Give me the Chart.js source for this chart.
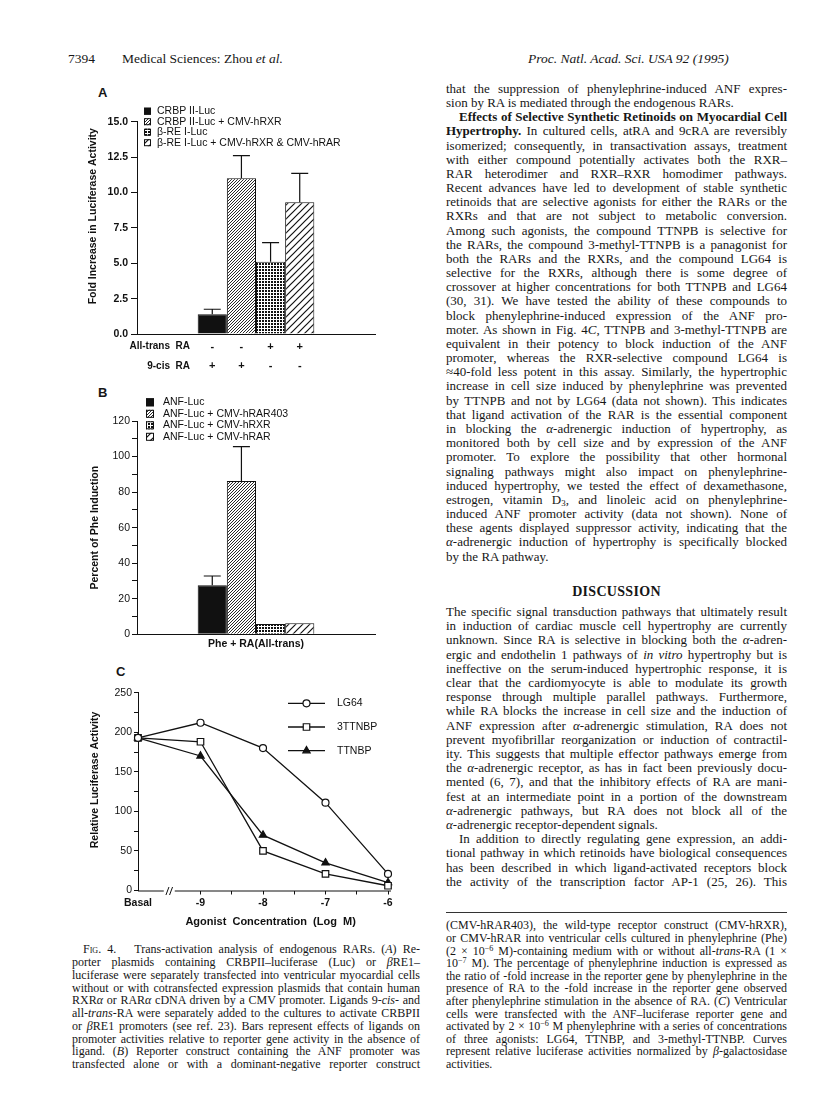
<!DOCTYPE html>
<html lang="en">
<head>
<meta charset="UTF-8">
<title>Fig. 4 – Trans-activation analysis of endogenous RARs</title>
<script src="https://cdn.jsdelivr.net/npm/chart.js"></script>
<style>
  html, body { margin: 0; padding: 0; background: #fff; }
  #page { position: relative; width: 816px; height: 1114px; overflow: hidden;
          font-family: "Liberation Serif", "Times New Roman", serif; color: #161616; }
  .ln { position: absolute; text-align: justify; white-space: normal; }
  .hd { position: absolute; font-size: 13.5px; line-height: 16px; white-space: nowrap; }
  .panel { position: absolute; font: bold 13px "Liberation Sans", Arial, sans-serif; }
  canvas { position: absolute; }
  sub, sup { font-size: 0.68em; line-height: 0; }
  sup { vertical-align: 0.45em; }
  sub { vertical-align: -0.25em; }
  .sc { font-variant: small-caps; }
</style>
</head>
<body>
<div id="page">
  <div class="hd" style="left:68px;top:51px">7394</div>
  <div class="hd" style="left:122px;top:51px">Medical Sciences: Zhou <i>et al.</i></div>
  <div class="hd" style="left:528px;top:51px"><i>Proc. Natl. Acad. Sci. USA 92 (1995)</i></div>

  <div class="panel" style="left:98px;top:85px">A</div>
  <div class="panel" style="left:98px;top:385px">B</div>
  <div class="panel" style="left:116px;top:664px">C</div>

  <canvas id="chartA" width="360" height="300" style="left:40px;top:80px"></canvas>
  <canvas id="chartB" width="360" height="270" style="left:40px;top:390px"></canvas>
  <canvas id="chartC" width="360" height="280" style="left:40px;top:660px"></canvas>

  <div class="hd" style="left:446px;width:341px;top:584px;text-align:center;font-weight:bold;font-size:14px;letter-spacing:0.3px">DISCUSSION</div>
  <div style="position:absolute;left:446px;top:912px;width:341px;height:1px;background:#333"></div>
</div>

<script>
// ---------- panel A: luciferase fold increase ----------
const seriesA = ['CRBP II-Luc', 'CRBP II-Luc + CMV-hRXR', 'β-RE I-Luc', 'β-RE I-Luc + CMV-hRXR & CMV-hRAR'];
const valuesA = [1.4, 11.0, 5.1, 9.3];
const errorsA = [0.35, 1.6, 1.35, 2.05];
const allTransA = ['-', '-', '+', '+'];
const nineCisA = ['+', '+', '-', '-'];
const ticksA = [0, 2.5, 5, 7.5, 10, 12.5, 15];

// ---------- panel B: percent of Phe induction ----------
const seriesB = ['ANF-Luc', 'ANF-Luc + CMV-hRAR403', 'ANF-Luc + CMV-hRXR', 'ANF-Luc + CMV-hRAR'];
const valuesB = [27.6, 86.3, 5.8, 6.2];
const errorsB = [5.2, 19.3, 0, 0];
const categoryB = ['Phe + RA(All-trans)'];
const ticksB = [0, 10, 20, 30, 40, 50, 60, 70, 80, 90, 100, 110, 120];

// ---------- panel C: dose response ----------
const concLog = [-10, -9, -8, -7, -6];          // -10 stands for the basal point
const concLabels = ['Basal', '-9', '-8', '-7', '-6'];
const concMinor = [-8.5, -7.5, -6.5];
const lg64 = [193, 212, 180, 111, 21];
const ttnbp3 = [193, 188, 50, 21, 6];
const ttnbp = [193, 170, 70, 35, 10];
const ticksC = [0, 25, 50, 75, 100, 125, 150, 175, 200, 225, 250];

const INK = '#111';
const SANS = '"Liberation Sans", Arial, sans-serif';
Chart.defaults.font.family = SANS;
Chart.defaults.color = INK;
Chart.defaults.animation = false;

// fill patterns like the printed figure
function pattern(size, draw) {
  const c = document.createElement('canvas');
  c.width = c.height = size;
  const g = c.getContext('2d');
  g.fillStyle = '#fff';
  g.fillRect(0, 0, size, size);
  g.fillStyle = INK;
  g.strokeStyle = INK;
  draw(g, size);
  return g.createPattern(c, 'repeat');
}
function diagonal(g, s, w) {
  g.lineWidth = w;
  g.beginPath();
  g.moveTo(0, s); g.lineTo(s, 0);
  g.moveTo(-1, 1); g.lineTo(1, -1);
  g.moveTo(s - 1, s + 1); g.lineTo(s + 1, s - 1);
  g.stroke();
}
const fills = [
  INK,
  pattern(3, (g, s) => diagonal(g, s, 0.9)),
  pattern(3, (g) => g.fillRect(0, 0, 2, 2)),
  pattern(7, (g, s) => diagonal(g, s, 1.2))
];

function barSets(labels, values, errors) {
  return labels.map((label, i) => ({
    label,
    data: [values[i]],
    err: errors[i],
    backgroundColor: fills[i],
    borderColor: INK,
    borderWidth: 1,
    categoryPercentage: 0.49,
    barPercentage: 1
  }));
}

// ---------- small plugins ----------
const errorBars = {
  id: 'errorBars',
  afterDatasetsDraw(chart, args, opts) {
    const { ctx } = chart;
    const ys = chart.scales.y;
    ctx.save();
    ctx.strokeStyle = INK;
    ctx.lineWidth = 1.2;
    chart.data.datasets.forEach((ds, i) => {
      if (!ds.err) return;
      const bar = chart.getDatasetMeta(i).data[0];
      const top = ys.getPixelForValue(ds.data[0] + ds.err);
      ctx.beginPath();
      ctx.moveTo(bar.x, bar.y);
      ctx.lineTo(bar.x, top);
      ctx.moveTo(bar.x - opts.cap / 2, top);
      ctx.lineTo(bar.x + opts.cap / 2, top);
      ctx.stroke();
    });
    ctx.restore();
  }
};

const signRows = {
  id: 'signRows',
  afterDraw(chart, args, opts) {
    if (!opts.rows) return;
    const { ctx, chartArea } = chart;
    ctx.save();
    ctx.fillStyle = INK;
    ctx.textBaseline = 'middle';
    opts.rows.forEach(row => {
      const y = chartArea.bottom + row.dy;
      ctx.font = opts.labelFont;
      ctx.textAlign = 'right';
      ctx.fillText(row.label, chartArea.left + opts.labelRight, y);
      ctx.font = opts.signFont;
      ctx.textAlign = 'center';
      row.signs.forEach((s, i) => ctx.fillText(s, chart.getDatasetMeta(i).data[0].x, y));
    });
    ctx.restore();
  }
};

const keyLegend = {
  id: 'keyLegend',
  afterDraw(chart, args, opts) {
    const { ctx } = chart;
    ctx.save();
    ctx.font = opts.font;
    ctx.textBaseline = 'middle';
    ctx.textAlign = 'left';
    chart.data.datasets.forEach((ds, i) => {
      const y = opts.y + i * opts.rowH;
      if (opts.kind === 'box') {
        const s = opts.box;
        ctx.fillStyle = ds.backgroundColor;
        ctx.fillRect(opts.x, y - s / 2, s, s);
        ctx.strokeStyle = INK;
        ctx.lineWidth = 1;
        ctx.strokeRect(opts.x + 0.5, y - s / 2 + 0.5, s - 1, s - 1);
      } else {
        ctx.strokeStyle = INK;
        ctx.lineWidth = ds.borderWidth;
        ctx.beginPath();
        ctx.moveTo(opts.x, y);
        ctx.lineTo(opts.x + opts.lineLen, y);
        ctx.stroke();
        ctx.fillStyle = ds.pointBackgroundColor;
        ctx.strokeStyle = ds.pointBorderColor;
        ctx.lineWidth = ds.pointBorderWidth;
        Chart.helpers.drawPoint(ctx, {
          pointStyle: ds.pointStyle, radius: ds.pointRadius,
          borderWidth: ds.pointBorderWidth, rotation: 0
        }, opts.x + opts.lineLen / 2, y);
      }
      ctx.fillStyle = INK;
      ctx.fillText(ds.label, opts.textX, y);
    });
    ctx.restore();
  }
};

// x axis of panel C is broken between basal and 10^-9
const axisBreak = {
  id: 'axisBreak',
  afterDraw(chart, args, opts) {
    const { ctx, chartArea } = chart;
    const xs = chart.scales.x;
    const y = chartArea.bottom + 0.5;
    const bx = xs.getPixelForValue(opts.at);
    ctx.save();
    ctx.strokeStyle = INK;
    ctx.lineWidth = 1;
    ctx.beginPath();
    ctx.moveTo(chartArea.left, y);
    ctx.lineTo(bx - opts.gap, y);
    ctx.moveTo(bx + opts.gap, y);
    ctx.lineTo(chartArea.right + 3, y);
    [-1.8, 1.8].forEach(d => {
      ctx.moveTo(bx + d - 1.5, y + 4);
      ctx.lineTo(bx + d + 1.5, y - 4);
    });
    ctx.stroke();
    ctx.restore();
  }
};

const setTicks = (list) => (scale) => { scale.ticks = list.map(v => ({ value: v })); };

// ---------- chart A ----------
new Chart(document.getElementById('chartA'), {
  type: 'bar',
  data: { labels: [''], datasets: barSets(seriesA, valuesA, errorsA) },
  plugins: [errorBars, signRows, keyLegend],
  options: {
    responsive: false,
    layout: { padding: { left: 0, top: 41.7, right: 25, bottom: 46 } },
    plugins: {
      legend: { display: false },
      tooltip: { enabled: false },
      errorBars: { cap: 17 },
      keyLegend: { kind: 'box', x: 104, box: 7, textX: 117, y: 31.2, rowH: 10.5, font: '10.5px ' + SANS },
      signRows: {
        labelRight: 53,
        labelFont: 'bold 10px ' + SANS,
        signFont: 'bold 11px ' + SANS,
        rows: [
          { label: 'All-trans  RA', signs: allTransA, dy: 12.7 },
          { label: '9-cis  RA', signs: nineCisA, dy: 32 }
        ]
      }
    },
    scales: {
      x: {
        grid: { display: false },
        ticks: { display: false },
        border: { color: INK, width: 1 },
        afterFit: (s) => { s.height = 0; }
      },
      y: {
        min: 0, max: 15,
        afterBuildTicks: setTicks(ticksA),
        ticks: { callback: (v) => v.toFixed(1), font: { size: 10.5, weight: 'bold' }, padding: 3, color: INK },
        grid: { drawOnChartArea: false, tickLength: 6, tickColor: INK },
        border: { color: INK, width: 1 },
        // leading spaces nudge the centred title upward, as printed
        title: { display: true, text: '        Fold Increase in Luciferase Activity', font: { size: 10.5, weight: 'bold' }, padding: { top: 46.7, bottom: 0 }, color: INK },
        afterFit: (s) => { s.width = 97; }
      }
    }
  }
});

// ---------- chart B ----------
new Chart(document.getElementById('chartB'), {
  type: 'bar',
  data: { labels: categoryB, datasets: barSets(seriesB, valuesB, errorsB) },
  plugins: [errorBars, keyLegend],
  options: {
    responsive: false,
    layout: { padding: { left: 0, top: 31, right: 25, bottom: 1.7 } },
    plugins: {
      legend: { display: false },
      tooltip: { enabled: false },
      errorBars: { cap: 17 },
      keyLegend: { kind: 'box', x: 106, box: 8, textX: 123, y: 12.3, rowH: 11.5, font: '10.5px ' + SANS }
    },
    scales: {
      x: {
        grid: { display: false, drawTicks: false, tickLength: 0 },
        ticks: { font: { size: 10.5, weight: 'bold' }, padding: 3.7, color: INK },
        border: { color: INK, width: 1 },
        afterFit: (s) => { s.height = 24; }
      },
      y: {
        min: 0, max: 120,
        afterBuildTicks: setTicks(ticksB),
        ticks: { callback: (v) => (v % 20 === 0 ? String(v) : ''), font: { size: 10.5 }, padding: 2, color: INK },
        grid: { drawOnChartArea: false, tickLength: 5, tickColor: INK },
        border: { color: INK, width: 1 },
        title: { display: true, text: 'Percent of Phe Induction', font: { size: 10.5, weight: 'bold' }, padding: { top: 48.7, bottom: 0 }, color: INK },
        afterFit: (s) => { s.width = 97; }
      }
    }
  }
});

// ---------- chart C ----------
function curve(label, values, style, radius, bg) {
  return {
    label,
    data: concLog.map((x, i) => ({ x, y: values[i] })),
    borderColor: INK,
    borderWidth: 1.3,
    pointStyle: style,
    pointRadius: radius,
    pointBackgroundColor: bg,
    pointBorderColor: INK,
    pointBorderWidth: 1.2,
    tension: 0,
    fill: false,
    clip: false
  };
}

new Chart(document.getElementById('chartC'), {
  type: 'line',
  data: {
    datasets: [
      curve('LG64', lg64, 'circle', 3.5, '#fff'),
      curve('3TTNBP', ttnbp3, 'rect', 4.6, '#fff'),
      curve('TTNBP', ttnbp, 'triangle', 4.2, INK)
    ]
  },
  plugins: [keyLegend, axisBreak],
  options: {
    responsive: false,
    layout: { padding: { left: 0, top: 32.7, right: 12, bottom: 9.5 } },
    plugins: {
      legend: { display: false },
      tooltip: { enabled: false },
      keyLegend: { kind: 'line', x: 248, lineLen: 37, textX: 297, y: 43.3, rowH: 23.7, font: '10.5px ' + SANS },
      axisBreak: { at: -9.5, gap: 5.5 }
    },
    scales: {
      x: {
        type: 'linear', min: -10, max: -6,
        afterBuildTicks: setTicks([...concLog, ...concMinor].sort((a, b) => a - b)),
        ticks: {
          autoSkip: false, maxRotation: 0, padding: 2.5, color: INK,
          font: { size: 10.5, weight: 'bold' },
          callback: (v) => { const i = concLog.indexOf(v); return i >= 0 ? concLabels[i] : ''; }
        },
        grid: {
          drawOnChartArea: false, tickLength: 4,
          tickColor: (c) => (c.tick && c.tick.value === concLog[0] ? 'rgba(0,0,0,0)' : INK)
        },
        border: { display: false },
        title: { display: true, text: '     Agonist  Concentration  (Log  M)', font: { size: 11, weight: 'bold' }, padding: { top: 0, bottom: 2.2 }, color: INK },
        afterFit: (s) => { s.height = 40; }
      },
      y: {
        min: 0, max: 250,
        afterBuildTicks: setTicks(ticksC),
        ticks: { callback: (v) => (v % 50 === 0 ? String(v) : ''), font: { size: 10.5 }, padding: 2, color: INK },
        grid: { drawOnChartArea: false, tickLength: 4, tickColor: INK },
        border: { color: INK, width: 1 },
        title: { display: true, text: '        Relative Luciferase Activity', font: { size: 10.5, weight: 'bold' }, padding: { top: 48.7, bottom: 0 }, color: INK },
        afterFit: (s) => { s.width = 98; }
      }
    }
  }
});

// ---------- page text ----------
// "^" = indented first line, "$" = last line of a paragraph (not justified)
const textRight1 = [
  'that the suppression of phenylephrine-induced ANF expres-',
  'sion by RA is mediated through the endogenous RARs.$',
  '^<b>Effects of Selective Synthetic Retinoids on Myocardial Cell</b>',
  '<b>Hypertrophy.</b> In cultured cells, atRA and 9cRA are reversibly',
  'isomerized; consequently, in transactivation assays, treatment',
  'with either compound potentially activates both the RXR–',
  'RAR heterodimer and RXR–RXR homodimer pathways.',
  'Recent advances have led to development of stable synthetic',
  'retinoids that are selective agonists for either the RARs or the',
  'RXRs and that are not subject to metabolic conversion.',
  'Among such agonists, the compound TTNPB is selective for',
  'the RARs, the compound 3-methyl-TTNPB is a panagonist for',
  'both the RARs and the RXRs, and the compound LG64 is',
  'selective for the RXRs, although there is some degree of',
  'crossover at higher concentrations for both TTNPB and LG64',
  '(30, 31). We have tested the ability of these compounds to',
  'block phenylephrine-induced expression of the ANF pro-',
  'moter. As shown in Fig. 4<i>C</i>, TTNPB and 3-methyl-TTNPB are',
  'equivalent in their potency to block induction of the ANF',
  'promoter, whereas the RXR-selective compound LG64 is',
  '≈40-fold less potent in this assay. Similarly, the hypertrophic',
  'increase in cell size induced by phenylephrine was prevented',
  'by TTNPB and not by LG64 (data not shown). This indicates',
  'that ligand activation of the RAR is the essential component',
  'in blocking the <i>α</i>-adrenergic induction of hypertrophy, as',
  'monitored both by cell size and by expression of the ANF',
  'promoter. To explore the possibility that other hormonal',
  'signaling pathways might also impact on phenylephrine-',
  'induced hypertrophy, we tested the effect of dexamethasone,',
  'estrogen, vitamin D<sub>3</sub>, and linoleic acid on phenylephrine-',
  'induced ANF promoter activity (data not shown). None of',
  'these agents displayed suppressor activity, indicating that the',
  '<i>α</i>-adrenergic induction of hypertrophy is specifically blocked',
  'by the RA pathway.$'
];

const textRight2 = [
  'The specific signal transduction pathways that ultimately result',
  'in induction of cardiac muscle cell hypertrophy are currently',
  'unknown. Since RA is selective in blocking both the <i>α</i>-adren-',
  'ergic and endothelin 1 pathways of <i>in vitro</i> hypertrophy but is',
  'ineffective on the serum-induced hypertrophic response, it is',
  'clear that the cardiomyocyte is able to modulate its growth',
  'response through multiple parallel pathways. Furthermore,',
  'while RA blocks the increase in cell size and the induction of',
  'ANF expression after <i>α</i>-adrenergic stimulation, RA does not',
  'prevent myofibrillar reorganization or induction of contractil-',
  'ity. This suggests that multiple effector pathways emerge from',
  'the <i>α</i>-adrenergic receptor, as has in fact been previously docu-',
  'mented (6, 7), and that the inhibitory effects of RA are mani-',
  'fest at an intermediate point in a portion of the downstream',
  '<i>α</i>-adrenergic pathways, but RA does not block all of the',
  '<i>α</i>-adrenergic receptor-dependent signals.$',
  '^In addition to directly regulating gene expression, an addi-',
  'tional pathway in which retinoids have biological consequences',
  'has been described in which ligand-activated receptors block',
  'the activity of the transcription factor AP-1 (25, 26). This'
];

const captionLeft = [
  '^F<span class="sc">ig</span>. 4.&nbsp;&nbsp; Trans-activation analysis of endogenous RARs. (<i>A</i>) Re-',
  'porter plasmids containing CRBPII–luciferase (Luc) or <i>β</i>RE1–',
  'luciferase were separately transfected into ventricular myocardial cells',
  'without or with cotransfected expression plasmids that contain human',
  'RXR<i>α</i> or RAR<i>α</i> cDNA driven by a CMV promoter. Ligands 9-<i>cis</i>- and',
  'all-<i>trans</i>-RA were separately added to the cultures to activate CRBPII',
  'or <i>β</i>RE1 promoters (see ref. 23). Bars represent effects of ligands on',
  'promoter activities relative to reporter gene activity in the absence of',
  'ligand. (<i>B</i>) Reporter construct containing the ANF promoter was',
  'transfected alone or with a dominant-negative reporter construct'
];

const captionRight = [
  '(CMV-hRAR403), the wild-type receptor construct (CMV-hRXR),',
  'or CMV-hRAR into ventricular cells cultured in phenylephrine (Phe)',
  '(2 × 10<sup>−6</sup> M)-containing medium with or without all-<i>trans</i>-RA (1 ×',
  '10<sup>−7</sup> M). The percentage of phenylephrine induction is expressed as',
  'the ratio of -fold increase in the reporter gene by phenylephrine in the',
  'presence of RA to the -fold increase in the reporter gene observed',
  'after phenylephrine stimulation in the absence of RA. (<i>C</i>) Ventricular',
  'cells were transfected with the ANF–luciferase reporter gene and',
  'activated by 2 × 10<sup>−6</sup> M phenylephrine with a series of concentrations',
  'of three agonists: LG64, TTNBP, and 3-methyl-TTNBP. Curves',
  'represent relative luciferase activities normalized by <i>β</i>-galactosidase',
  'activities.$'
];

const page = document.getElementById('page');

function placeLines(lines, cfg) {
  lines.forEach((raw, i) => {
    let html = raw, justify = true, indent = 0;
    if (html.startsWith('^')) { html = html.slice(1); indent = cfg.indent; }
    if (html.endsWith('$')) { html = html.slice(0, -1); justify = false; }
    const el = document.createElement('div');
    el.className = 'ln';
    Object.assign(el.style, {
      left: cfg.left + 'px',
      width: cfg.width + 'px',
      top: (cfg.top + i * cfg.pitch - cfg.pitch / 2 - 1) + 'px',
      fontSize: cfg.size + 'px',
      lineHeight: cfg.pitch + 'px',
      textIndent: indent + 'px',
      textAlignLast: justify ? 'justify' : 'left'
    });
    el.innerHTML = html;
    page.appendChild(el);
    // shrink a line a little if it would wrap
    let fs = cfg.size;
    while (el.offsetHeight > cfg.pitch * 1.5 && fs > cfg.size - 3) {
      fs -= 0.1;
      el.style.fontSize = fs + 'px';
    }
  });
}

placeLines(textRight1, { left: 446, width: 341, top: 90, pitch: 14.17, size: 13, indent: 13 });
placeLines(textRight2, { left: 446, width: 341, top: 613, pitch: 14.2, size: 13, indent: 13 });
placeLines(captionLeft, { left: 72, width: 348, top: 950.7, pitch: 12.77, size: 12, indent: 11 });
placeLines(captionRight, { left: 446, width: 341, top: 926.7, pitch: 12.6, size: 12, indent: 0 });
</script>
</body>
</html>
